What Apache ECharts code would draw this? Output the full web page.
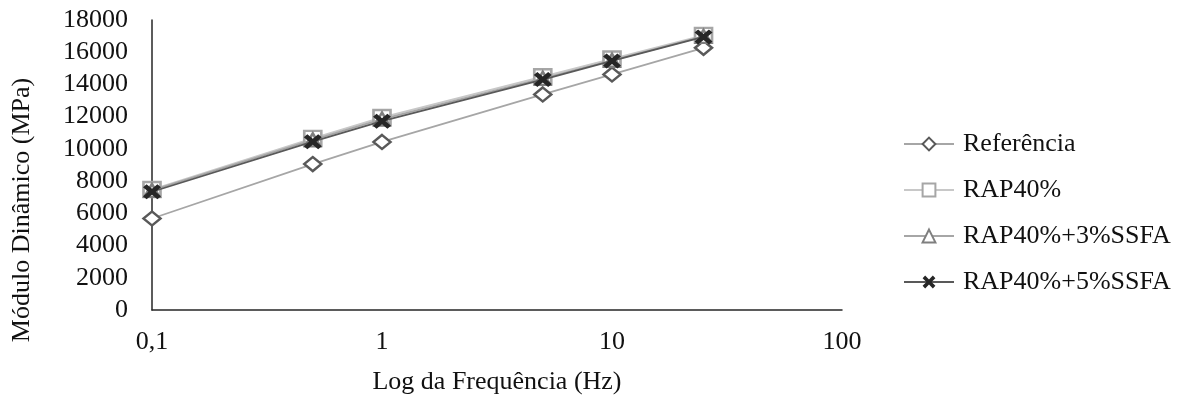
<!DOCTYPE html>
<html>
<head>
<meta charset="utf-8">
<script src="https://cdn.jsdelivr.net/npm/echarts@6/dist/echarts.min.js"></script>
<style>html,body{margin:0;padding:0;background:#fff;}#c{width:1184px;height:400px;}</style>
</head>
<body>
<div id="c"></div>
<script>
const frequencies = [0.1, 0.5, 1, 5, 10, 25];
const seriesNames = ['Referência', 'RAP40%', 'RAP40%+3%SSFA', 'RAP40%+5%SSFA'];
const referencia = [5680, 9060, 10430, 13380, 14620, 16270];
const rap40 = [7480, 10650, 11950, 14480, 15580, 17050];
const rap40ssfa3 = [7420, 10560, 11850, 14380, 15500, 16980];
const rap40ssfa5 = [7340, 10450, 11720, 14300, 15460, 16950];
const yTicks = {min: 0, max: 18000, interval: 2000};
const xRange = {min: 0.1, max: 100};
const xTitle = 'Log da Frequência (Hz)';
const yTitle = 'Módulo Dinâmico (MPa)';

const font = 'Liberation Serif, Times New Roman, serif';
const fs = 26;
const txt = '#111';
const crossPath = 'path://M0,2 L2,0 L5,3 L8,0 L10,2 L7,5 L10,8 L8,10 L5,7 L2,10 L0,8 L3,5 Z';
function pairs(vals){ return frequencies.map((f,i)=>[f, vals[i]]); }

const chart = echarts.init(document.getElementById('c'), null, {renderer:'canvas'});
chart.setOption({
  animation: false,
  backgroundColor: '#fff',
  textStyle: {fontFamily: font},
  grid: {left: 152, right: 342, top: 20, bottom: 88},
  graphic: [{
    type: 'text', x: 22, y: 210, rotation: Math.PI / 2,
    style: {text: yTitle, font: fs + 'px ' + font, fill: txt, align: 'center', verticalAlign: 'middle'}
  }],
  xAxis: {
    type: 'log', logBase: 10, min: xRange.min, max: xRange.max,
    name: xTitle, nameLocation: 'middle', nameGap: 59,
    nameTextStyle: {fontFamily: font, fontSize: fs, color: txt},
    axisLine: {lineStyle: {color: '#262626', width: 1.5}},
    axisTick: {show: false},
    splitLine: {show: false},
    minorTick: {show: false},
    axisLabel: {fontFamily: font, fontSize: fs, color: txt, margin: 19,
      formatter: v => String(+v.toPrecision(6)).replace('.', ',')}
  },
  yAxis: {
    type: 'value', min: yTicks.min, max: yTicks.max, interval: yTicks.interval,
    axisLine: {show: true, lineStyle: {color: '#262626', width: 1.5}},
    axisTick: {show: false},
    splitLine: {show: false},
    axisLabel: {fontFamily: font, fontSize: fs, color: txt, margin: 24, formatter: v => String(v)}
  },
  legend: {
    orient: 'vertical', left: 898, top: 126, itemGap: 20,
    itemWidth: 50, itemHeight: 16,
    textStyle: {fontFamily: font, fontSize: fs, color: txt, padding: [0,0,0,4]},
    data: seriesNames
  },
  series: [
    {name: seriesNames[0], type: 'line', data: pairs(referencia), symbol: 'diamond', symbolSize: [17,14],
     lineStyle: {color: '#a6a6a6', width: 1.8}, itemStyle: {color: '#fff', borderColor: '#595959', borderWidth: 2.5}, z: 2},
    {name: seriesNames[1], type: 'line', data: pairs(rap40), symbol: 'rect', symbolSize: [17,15],
     lineStyle: {color: '#c8c8c8', width: 1.8}, itemStyle: {color: '#fff', borderColor: '#a6a6a6', borderWidth: 2.5}, z: 3},
    {name: seriesNames[2], type: 'line', data: pairs(rap40ssfa3), symbol: 'triangle', symbolSize: [15,13],
     lineStyle: {color: '#a6a6a6', width: 1.8}, itemStyle: {color: '#fff', borderColor: '#7f7f7f', borderWidth: 2.5}, z: 4},
    {name: seriesNames[3], type: 'line', data: pairs(rap40ssfa5), symbol: crossPath, symbolSize: [18,15],
     lineStyle: {color: '#595959', width: 1.8}, itemStyle: {color: '#262626', borderWidth: 0}, z: 5}
  ]
});
</script>
</body>
</html>
